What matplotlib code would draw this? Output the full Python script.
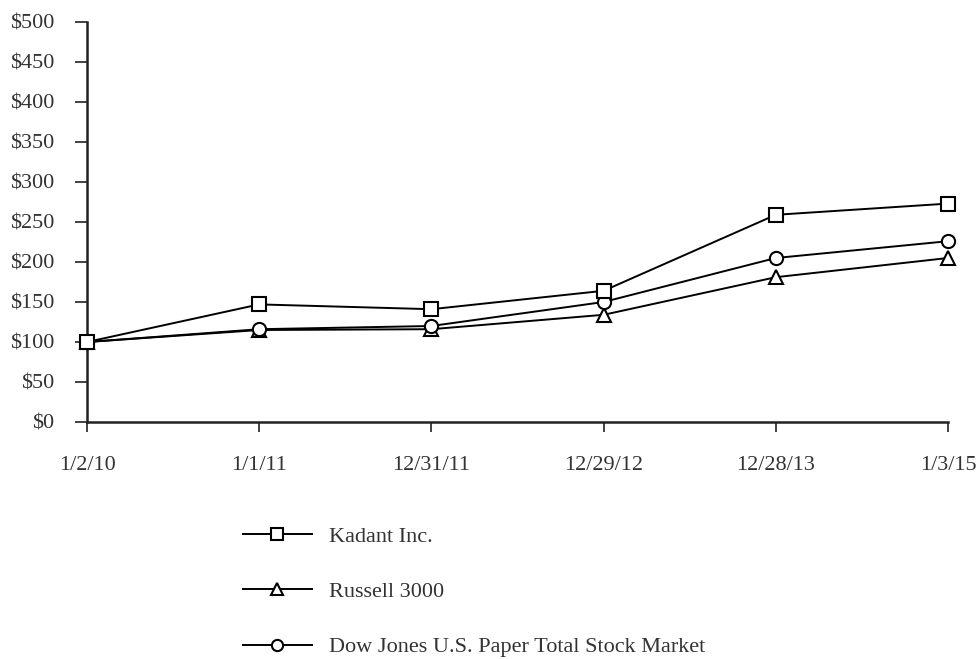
import matplotlib
matplotlib.use("Agg")
import matplotlib.pyplot as plt

dates = ["1/2/10", "1/1/11", "12/31/11", "12/29/12", "12/28/13", "1/3/15"]
kadant = [100, 147, 141, 164, 259, 273]
russell = [100, 115, 116, 134, 181, 205]
dowjones = [100, 116, 120, 150, 205, 226]
y_ticks = list(range(0, 501, 50))

plt.rcParams['font.family'] = ['Liberation Serif', 'DejaVu Serif']

fig = plt.figure(figsize=(9.8, 6.59), dpi=100)
ax = fig.add_axes([87/980, 1-422/659, (948-87)/980, 400/659])

x = list(range(len(dates)))
style = dict(color="black", lw=1.4, markerfacecolor="white",
             markeredgecolor="black", markeredgewidth=1.5, clip_on=False)
ax.plot(x, russell, marker="^", markersize=9.5, label="Russell 3000", zorder=3, **style)
ax.plot(x, dowjones, marker="o", markersize=9.5, label="Dow Jones U.S. Paper Total Stock Market", zorder=3, **style)
ax.plot(x, kadant, marker="s", markersize=9.5, label="Kadant Inc.", zorder=4, **style)

ax.set_xlim(0, len(dates) - 1)
ax.set_ylim(0, 500)
ax.set_xticks(x)
ax.set_xticklabels(dates)
ax.set_yticks(y_ticks)
ax.set_yticklabels([f"${v}" for v in y_ticks])
ax.tick_params(axis="both", direction="out", width=1.2,
               labelsize=16, colors="#222222", labelcolor="#333333")
ax.tick_params(axis="y", length=8.5, pad=15)
ax.tick_params(axis="x", length=7.5, pad=17)
for s in ["top", "right"]:
    ax.spines[s].set_visible(False)
for s in ["left", "bottom"]:
    ax.spines[s].set_linewidth(1.8)
    ax.spines[s].set_color("#222222")

handles, labels = ax.get_legend_handles_labels()
order = [2, 0, 1]
fig.legend([handles[i] for i in order], [labels[i] for i in order],
           loc="upper left", bbox_to_anchor=(243/980, 1-526/659),
           frameon=False, fontsize=16, handlelength=3.1, handletextpad=0.75,
           labelspacing=1.57, borderpad=0, borderaxespad=0,
           labelcolor="#333333", markerscale=0.85)

fig.savefig("out.png", dpi=100)
